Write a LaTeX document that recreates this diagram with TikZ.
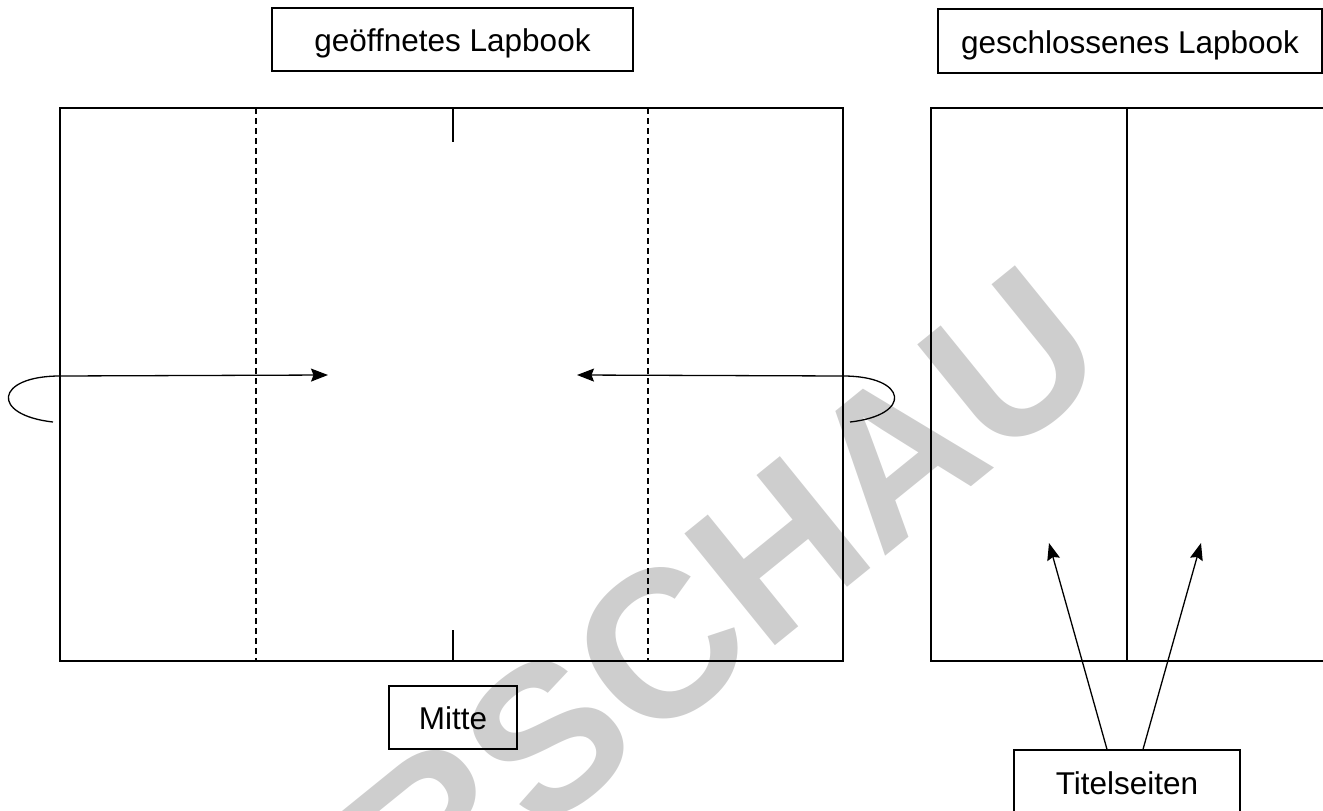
\documentclass[tikz,border=0pt]{standalone}
\usepackage{fontspec}
\setmainfont{Liberation Sans}
\usetikzlibrary{arrows.meta,calc}
\definecolor{wm}{RGB}{206,206,206}
\begin{document}
\begin{tikzpicture}[x=1pt,y=-1pt,
  labelbox/.style={draw, line width=1.3pt, inner sep=0pt, font=\fontsize{31.5}{36}\selectfont, text height=24pt, text depth=0pt, align=center},
  sheet/.style={draw, line width=1.3pt, inner sep=0pt},
  fold/.style={line width=1.1pt, dash pattern=on 6pt off 4pt},
  plain/.style={line width=1.3pt},
  pointer/.style={line width=1.3pt, -{Stealth[length=17pt,width=13pt,inset=2.5pt]}},
  watermark/.style={text=wm, font=\fontsize{209}{209}\selectfont\bfseries, inner sep=0pt}
]
\useasboundingbox (0,0) rectangle (1323,811);
\clip (0,0) rectangle (1323,811);

% watermark
\node[watermark, rotate=39] (wmk) at (606,690) {VORSCHAU};

% sheets
\node[sheet, minimum width=783pt, minimum height=553pt] (open) at (451.5,384.5) {};
\node[sheet, minimum width=396pt, minimum height=553pt] (closed) at (1129,384.5) {};

% fold lines
\draw[fold] (256,108) -- (256,661);
\draw[fold] (648,108) -- (648,661);
\draw[plain] (453,108) -- (453,142);
\draw[plain] (453,630) -- (453,661);
\draw[plain] (1127,108) -- (1127,661);

% labels
\node[labelbox, minimum width=361pt, minimum height=63pt] (lopen) at (452.5,39.5) {geöffnetes Lapbook};
\node[labelbox, minimum width=384pt, minimum height=64pt] (lclosed) at (1130,41) {geschlossenes Lapbook};
\node[labelbox, minimum width=128pt, minimum height=63pt] (mitte) at (453,717.5) {Mitte};
\node[labelbox, minimum width=226pt, minimum height=65pt] (ts) at (1127,782.5) {Titelseiten};

% folding arrows
\coordinate (lstart) at (53,422);
\coordinate (ledge) at (60,376);
\coordinate (ltip) at (328,375);
\coordinate (rstart) at (850,422);
\coordinate (redge) at (843,376);
\coordinate (rtip) at (577,375);
\draw[pointer] (lstart) .. controls (-10,415) and (-5,376) .. (ledge) -- (ltip);
\draw[pointer] (rstart) .. controls (913,415) and (908,376) .. (redge) -- (rtip);

% title page arrows
\coordinate (tl) at (1049,543);
\coordinate (tr) at (1201,543);
\draw[pointer] ($(ts.north)+(-20,0)$) -- (tl);
\draw[pointer] ($(ts.north)+(16,0)$) -- (tr);
\end{tikzpicture}
\end{document}
